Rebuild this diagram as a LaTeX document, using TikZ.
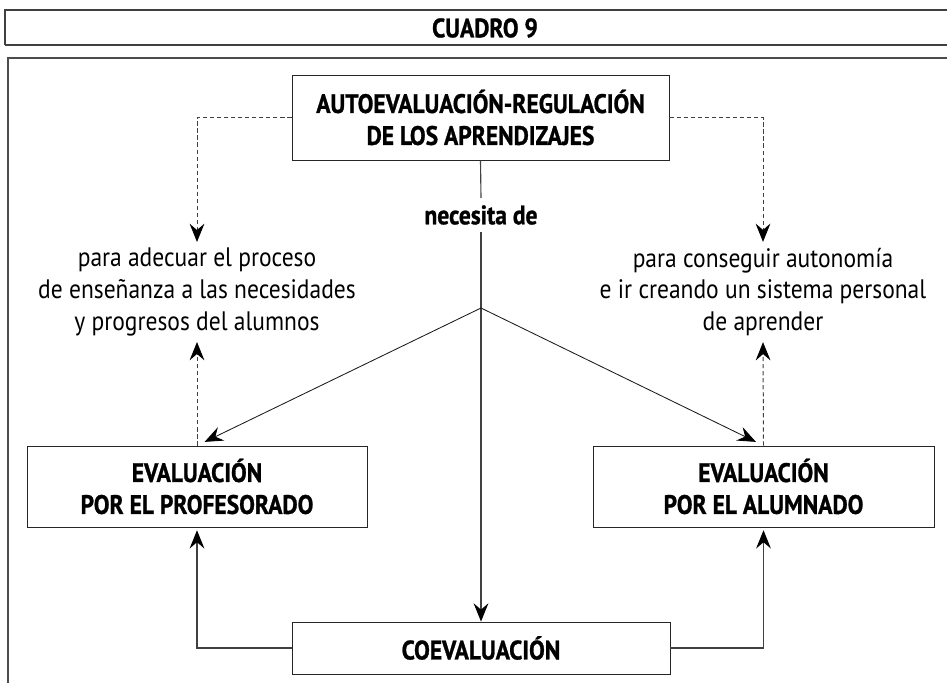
\documentclass[tikz,border=0pt]{standalone}
\usepackage{fontspec}
\setmainfont{PT Sans}[FakeStretch=0.88, BoldFeatures={FakeBold=1}]
\usetikzlibrary{arrows.meta}

\begin{document}
\begin{tikzpicture}[x=0.025cm, y=-0.025cm,
    every node/.style={font=\fontsize{19}{22.7}\selectfont, align=center, inner sep=2pt},
    hd/.style={font=\fontsize{19}{22.7}\selectfont\bfseries},
    box/.style={hd, draw=black!85, line width=0.6pt},
    lnk/.style={draw=black!75, line width=0.8pt, -{Stealth[length=13pt, width=10.5pt, inset=4.5pt, color=black]}},
    dlnk/.style={lnk, dash pattern=on 3pt off 2pt, line width=0.7pt}]
  \useasboundingbox (0,0) rectangle (947,683);

  \draw[black!75, line width=0.8pt] (5,45) -- (5,10) -- (960,10);
  \draw[black!75, line width=0.8pt] (5,45) -- (960,45);
  \node[hd] (title) at (485,28) {CUADRO 9};
  \draw[black!70, line width=0.8pt] (8,700) -- (8,58) -- (960,58);

  \node[box, minimum width=9.425cm, minimum height=2.125cm] (auto) at (480.5,117.5)
    {AUTOEVALUACIÓN-REGULACIÓN\\DE LOS APRENDIZAJES};
  \node[hd, inner sep=5pt] (nec) at (481,215) {necesita de};

  \node[inner sep=4pt] (ltxt) at (197,292)
    {para adecuar el proceso\\de enseñanza a las necesidades\\y progresos del alumnos};
  \node[inner sep=4pt] (rtxt) at (763,292)
    {para conseguir autonomía\\e ir creando un sistema personal\\de aprender};

  \node[box, minimum width=8.5cm, minimum height=2.025cm] (prof) at (197,486.5)
    {EVALUACIÓN\\POR EL PROFESORADO};
  \node[box, minimum width=8.525cm, minimum height=2.025cm] (alum) at (763.5,486.5)
    {EVALUACIÓN\\POR EL ALUMNADO};
  \node[box, minimum width=9.45cm, minimum height=1.3cm] (coev) at (481,648) {COEVALUACIÓN};

  \coordinate (br) at (481,308);

  \draw[dlnk] (auto.west) -| (ltxt.north);
  \draw[dlnk] (auto.east) -| (rtxt.north);
  \draw[dlnk] (prof.north) -- (ltxt.south);
  \draw[dlnk] (alum.north) -- (rtxt.south);

  \draw[draw=black!75, line width=0.8pt] (auto.south) -- (nec.north);
  \draw[lnk] (nec.south) -- (coev.north);
  \draw[lnk, draw=black!90, line width=0.6pt, shorten >=6pt] (br) -- (prof.north);
  \draw[lnk, draw=black!90, line width=0.6pt, shorten >=6pt] (br) -- (alum.north);

  \draw[lnk, shorten >=2pt] (coev.west) -| (prof.south);
  \draw[lnk, shorten >=2pt] (coev.east) -| (alum.south);
\end{tikzpicture}
\end{document}
